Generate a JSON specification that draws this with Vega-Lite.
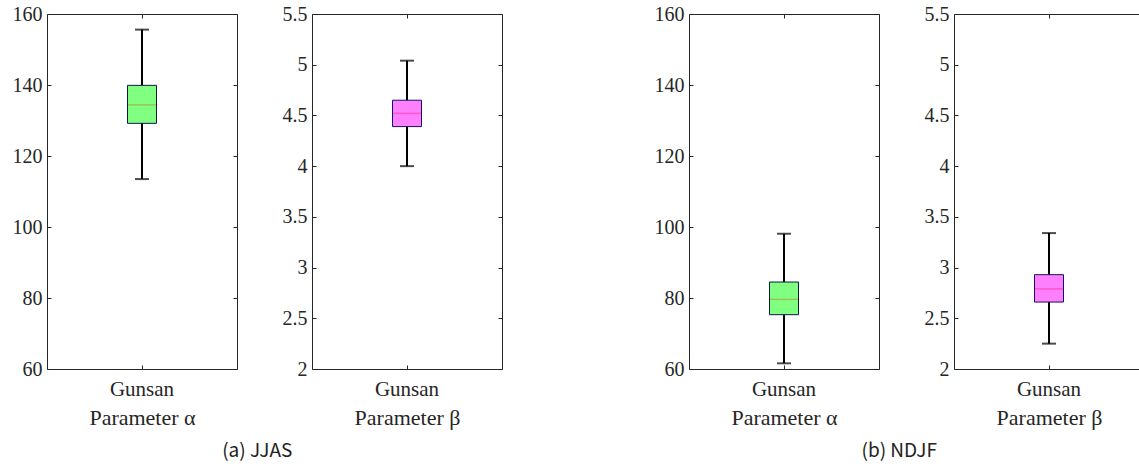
{
  "$schema": "https://vega.github.io/schema/vega-lite/v6.json",
  "background": "white",
  "padding": {"left": 11, "top": 3, "right": 0, "bottom": 0},
  "config": {
    "view": {"stroke": "#262626", "strokeWidth": 1},
    "axis": {"domain": false, "grid": false, "labelFont": "Liberation Serif", "labelFontSize": 20, "labelColor": "#262626", "tickColor": "#262626", "tickSize": -4, "titleFont": "Liberation Serif", "titleFontSize": 22, "titleFontWeight": "normal", "titleColor": "#262626"},
    "axisX": {"labelFontSize": 21},
    "title": {"font": "Noto Sans CJK KR", "fontSize": 19, "fontWeight": "normal", "color": "#222222", "anchor": "middle"}
  },
  "datasets": {
    "ja": [{"station": "Gunsan", "lo": 113.5, "q1": 129.2, "med": 134.4, "q3": 139.9, "hi": 155.6}],
    "jb": [{"station": "Gunsan", "lo": 4.0, "q1": 4.39, "med": 4.52, "q3": 4.65, "hi": 5.04}],
    "na": [{"station": "Gunsan", "lo": 61.6, "q1": 75.3, "med": 79.6, "q3": 84.5, "hi": 98.1}],
    "nb": [{"station": "Gunsan", "lo": 2.25, "q1": 2.66, "med": 2.79, "q3": 2.93, "hi": 3.34}]
  },
  "bounds": "full",
  "spacing": 150,
  "hconcat": [
    {
      "bounds": "flush",
      "spacing": 75,
      "title": {"text": "(a) JJAS", "orient": "bottom", "offset": 13},
      "hconcat": [
        {
          "width": 190, "height": 355,
          "data": {"name": "ja"},
          "layer": [
            {
              "layer": [
                {"mark": {"type": "rule", "stroke": "black", "strokeWidth": 2},
                 "encoding": {"x": {"field": "station", "type": "nominal", "axis": {"labelAngle": 0, "labelPadding": 13, "title": "Parameter α", "titlePadding": 8}},
                              "y": {"field": "lo", "type": "quantitative", "scale": {"domain": [60, 160], "nice": false}, "axis": {"values": [60, 80, 100, 120, 140, 160], "format": "~r", "title": null, "labelPadding": 9}},
                              "y2": {"field": "hi"}}},
                {"mark": {"type": "tick", "size": 14, "thickness": 2, "color": "black"},
                 "encoding": {"x": {"field": "station", "type": "nominal"}, "y": {"field": "lo", "type": "quantitative"}}},
                {"mark": {"type": "tick", "size": 14, "thickness": 2, "color": "black"},
                 "encoding": {"x": {"field": "station", "type": "nominal"}, "y": {"field": "hi", "type": "quantitative"}}},
                {"mark": {"type": "bar", "size": 29, "fill": "#80ff80", "stroke": "#0c1a48", "strokeWidth": 1},
                 "encoding": {"x": {"field": "station", "type": "nominal"}, "y": {"field": "q1", "type": "quantitative"}, "y2": {"field": "q3"}}},
                {"mark": {"type": "tick", "size": 28, "thickness": 1.5, "color": "#a6a840"},
                 "encoding": {"x": {"field": "station", "type": "nominal"}, "y": {"field": "med", "type": "quantitative"}}}
              ]
            },
            {"mark": {"type": "tick", "opacity": 0},
             "encoding": {"x": {"field": "station", "type": "nominal", "axis": {"orient": "top", "labels": false, "title": null}},
                          "y": {"field": "med", "type": "quantitative", "scale": {"domain": [60, 160], "nice": false}, "axis": {"orient": "right", "values": [60, 80, 100, 120, 140, 160], "labels": false, "title": null}}}}
          ],
          "resolve": {"scale": {"x": "independent", "y": "independent"}}
        },
        {
          "width": 190, "height": 355,
          "data": {"name": "jb"},
          "layer": [
            {
              "layer": [
                {"mark": {"type": "rule", "stroke": "black", "strokeWidth": 2},
                 "encoding": {"x": {"field": "station", "type": "nominal", "axis": {"labelAngle": 0, "labelPadding": 13, "title": "Parameter β", "titlePadding": 8}},
                              "y": {"field": "lo", "type": "quantitative", "scale": {"domain": [2, 5.5], "nice": false}, "axis": {"values": [2, 2.5, 3, 3.5, 4, 4.5, 5, 5.5], "format": "~r", "title": null, "labelPadding": 9}},
                              "y2": {"field": "hi"}}},
                {"mark": {"type": "tick", "size": 14, "thickness": 2, "color": "black"},
                 "encoding": {"x": {"field": "station", "type": "nominal"}, "y": {"field": "lo", "type": "quantitative"}}},
                {"mark": {"type": "tick", "size": 14, "thickness": 2, "color": "black"},
                 "encoding": {"x": {"field": "station", "type": "nominal"}, "y": {"field": "hi", "type": "quantitative"}}},
                {"mark": {"type": "bar", "size": 29, "fill": "#ff80ff", "stroke": "#1a1060", "strokeWidth": 1},
                 "encoding": {"x": {"field": "station", "type": "nominal"}, "y": {"field": "q1", "type": "quantitative"}, "y2": {"field": "q3"}}},
                {"mark": {"type": "tick", "size": 28, "thickness": 1.5, "color": "#ff40b4"},
                 "encoding": {"x": {"field": "station", "type": "nominal"}, "y": {"field": "med", "type": "quantitative"}}}
              ]
            },
            {"mark": {"type": "tick", "opacity": 0},
             "encoding": {"x": {"field": "station", "type": "nominal", "axis": {"orient": "top", "labels": false, "title": null}},
                          "y": {"field": "med", "type": "quantitative", "scale": {"domain": [2, 5.5], "nice": false}, "axis": {"orient": "right", "values": [2, 2.5, 3, 3.5, 4, 4.5, 5, 5.5], "labels": false, "title": null}}}}
          ],
          "resolve": {"scale": {"x": "independent", "y": "independent"}}
        }
      ]
    },
    {
      "bounds": "flush",
      "spacing": 75,
      "title": {"text": "(b) NDJF", "orient": "bottom", "offset": 13},
      "hconcat": [
        {
          "width": 190, "height": 355,
          "data": {"name": "na"},
          "layer": [
            {
              "layer": [
                {"mark": {"type": "rule", "stroke": "black", "strokeWidth": 2},
                 "encoding": {"x": {"field": "station", "type": "nominal", "axis": {"labelAngle": 0, "labelPadding": 13, "title": "Parameter α", "titlePadding": 8}},
                              "y": {"field": "lo", "type": "quantitative", "scale": {"domain": [60, 160], "nice": false}, "axis": {"values": [60, 80, 100, 120, 140, 160], "format": "~r", "title": null, "labelPadding": 9}},
                              "y2": {"field": "hi"}}},
                {"mark": {"type": "tick", "size": 14, "thickness": 2, "color": "black"},
                 "encoding": {"x": {"field": "station", "type": "nominal"}, "y": {"field": "lo", "type": "quantitative"}}},
                {"mark": {"type": "tick", "size": 14, "thickness": 2, "color": "black"},
                 "encoding": {"x": {"field": "station", "type": "nominal"}, "y": {"field": "hi", "type": "quantitative"}}},
                {"mark": {"type": "bar", "size": 29, "fill": "#80ff80", "stroke": "#0c1a48", "strokeWidth": 1},
                 "encoding": {"x": {"field": "station", "type": "nominal"}, "y": {"field": "q1", "type": "quantitative"}, "y2": {"field": "q3"}}},
                {"mark": {"type": "tick", "size": 28, "thickness": 1.5, "color": "#a6a840"},
                 "encoding": {"x": {"field": "station", "type": "nominal"}, "y": {"field": "med", "type": "quantitative"}}}
              ]
            },
            {"mark": {"type": "tick", "opacity": 0},
             "encoding": {"x": {"field": "station", "type": "nominal", "axis": {"orient": "top", "labels": false, "title": null}},
                          "y": {"field": "med", "type": "quantitative", "scale": {"domain": [60, 160], "nice": false}, "axis": {"orient": "right", "values": [60, 80, 100, 120, 140, 160], "labels": false, "title": null}}}}
          ],
          "resolve": {"scale": {"x": "independent", "y": "independent"}}
        },
        {
          "width": 190, "height": 355,
          "data": {"name": "nb"},
          "layer": [
            {
              "layer": [
                {"mark": {"type": "rule", "stroke": "black", "strokeWidth": 2},
                 "encoding": {"x": {"field": "station", "type": "nominal", "axis": {"labelAngle": 0, "labelPadding": 13, "title": "Parameter β", "titlePadding": 8}},
                              "y": {"field": "lo", "type": "quantitative", "scale": {"domain": [2, 5.5], "nice": false}, "axis": {"values": [2, 2.5, 3, 3.5, 4, 4.5, 5, 5.5], "format": "~r", "title": null, "labelPadding": 9}},
                              "y2": {"field": "hi"}}},
                {"mark": {"type": "tick", "size": 14, "thickness": 2, "color": "black"},
                 "encoding": {"x": {"field": "station", "type": "nominal"}, "y": {"field": "lo", "type": "quantitative"}}},
                {"mark": {"type": "tick", "size": 14, "thickness": 2, "color": "black"},
                 "encoding": {"x": {"field": "station", "type": "nominal"}, "y": {"field": "hi", "type": "quantitative"}}},
                {"mark": {"type": "bar", "size": 29, "fill": "#ff80ff", "stroke": "#1a1060", "strokeWidth": 1},
                 "encoding": {"x": {"field": "station", "type": "nominal"}, "y": {"field": "q1", "type": "quantitative"}, "y2": {"field": "q3"}}},
                {"mark": {"type": "tick", "size": 28, "thickness": 1.5, "color": "#ff40b4"},
                 "encoding": {"x": {"field": "station", "type": "nominal"}, "y": {"field": "med", "type": "quantitative"}}}
              ]
            },
            {"mark": {"type": "tick", "opacity": 0},
             "encoding": {"x": {"field": "station", "type": "nominal", "axis": {"orient": "top", "labels": false, "title": null}},
                          "y": {"field": "med", "type": "quantitative", "scale": {"domain": [2, 5.5], "nice": false}, "axis": {"orient": "right", "values": [2, 2.5, 3, 3.5, 4, 4.5, 5, 5.5], "labels": false, "title": null}}}}
          ],
          "resolve": {"scale": {"x": "independent", "y": "independent"}}
        }
      ]
    }
  ]
}
